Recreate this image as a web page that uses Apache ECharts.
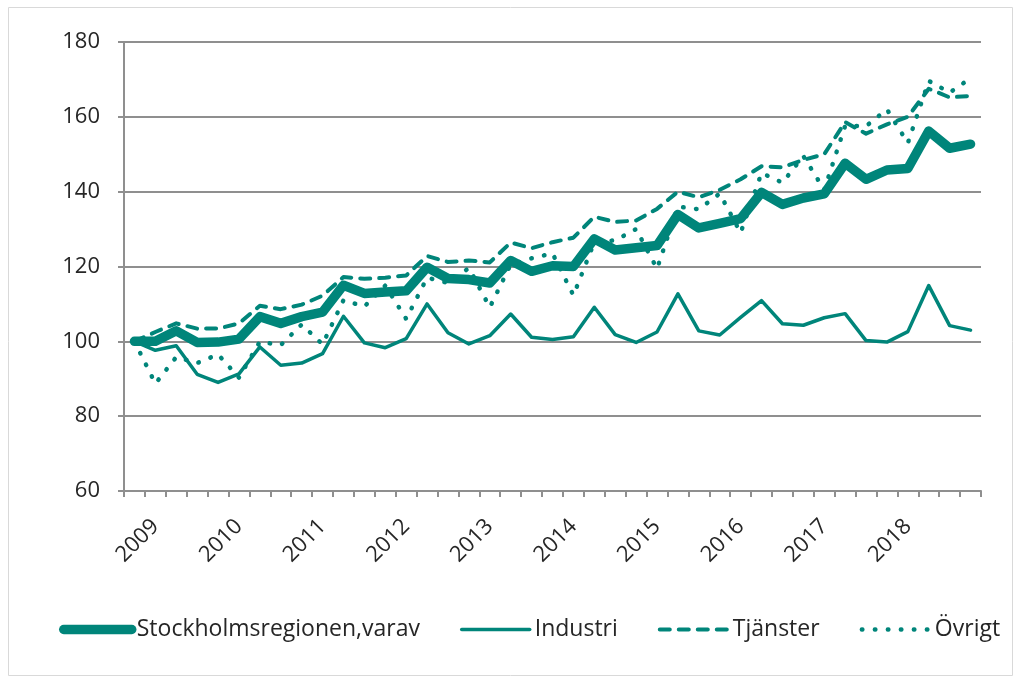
<!DOCTYPE html>
<html>
<head>
<meta charset="utf-8">
<title>Stockholmsregionen</title>
<script src="https://cdn.jsdelivr.net/npm/echarts@6/dist/echarts.min.js"></script>
<style>
  html, body {
    margin: 0;
    padding: 0;
    background: #fff;
  }
  #chart {
    width: 1021px;
    height: 683px;
  }
</style>
</head>
<body>
<div id="chart"></div>
<script>
// Quarters, 2008 K4 = 100
const quarters = [
  '2008K4',
  '2009K1', '2009K2', '2009K3', '2009K4',
  '2010K1', '2010K2', '2010K3', '2010K4',
  '2011K1', '2011K2', '2011K3', '2011K4',
  '2012K1', '2012K2', '2012K3', '2012K4',
  '2013K1', '2013K2', '2013K3', '2013K4',
  '2014K1', '2014K2', '2014K3', '2014K4',
  '2015K1', '2015K2', '2015K3', '2015K4',
  '2016K1', '2016K2', '2016K3', '2016K4',
  '2017K1', '2017K2', '2017K3', '2017K4',
  '2018K1', '2018K2', '2018K3', '2018K4',
]

const seriesNames = ['Stockholmsregionen,varav', 'Industri', 'Tjänster', 'Övrigt']

const stockholm = [
  100, 100, 102.8, 99.7, 99.8, 100.6, 106.6, 104.8, 106.6, 107.8,
  115, 112.8, 113.2, 113.5, 119.8, 116.8, 116.5, 115.6, 121.6, 118.7,
  120.2, 120, 127.4, 124.4, 125, 125.6, 133.9, 130.3, 131.5, 132.8,
  139.8, 136.6, 138.3, 139.4, 147.6, 143.3, 145.8, 146.2, 156.2, 151.6,
  152.7,
]
const industri = [
  100, 97.6, 98.8, 91.2, 89, 91.3, 98.5, 93.6, 94.2, 96.7,
  106.7, 99.6, 98.3, 100.7, 110, 102.3, 99.3, 101.5, 107.3, 101.1,
  100.5, 101.2, 109.1, 101.8, 99.7, 102.5, 112.7, 102.8, 101.7, 106.4,
  110.9, 104.7, 104.3, 106.3, 107.4, 100.2, 99.8, 102.6, 114.9, 104.2,
  103,
]
const tjanster = [
  100, 102.5, 104.8, 103.4, 103.4, 104.8, 109.5, 108.6, 109.8, 112.2,
  117.2, 116.7, 117, 117.6, 122.8, 121.2, 121.6, 121.1, 126.4, 124.9,
  126.5, 127.7, 133.3, 131.9, 132.3, 135.4, 140, 138.5, 140.5, 143.3,
  146.8, 146.5, 148.5, 150, 158.6, 155.5, 158, 160, 167.5, 165.2,
  165.6,
]
const ovrigt = [
  100, 88.7, 95.8, 94.2, 96.5, 90.3, 99.9, 99, 104.5, 99.2,
  111, 109.3, 114.9, 106, 117, 115.6, 119.6, 109.1, 120.5, 122.2,
  123.5, 112.3, 126.5, 127, 130, 119.4, 136, 135.3, 139.5, 129,
  145, 142.4, 149.5, 140.5, 157.6, 157.5, 162, 153, 169.6, 166.5,
  170.3,
]

const teal = '#00857a'
const gridGray = '#8f8f8f'
const textColor = '#262626'
const fontFamily = '"Open Sans", "DejaVu Sans", sans-serif'

const chart = echarts.init(document.getElementById('chart'), null, { renderer: 'canvas' })

chart.setOption({
  animation: false,
  textStyle: { fontFamily: fontFamily },
  graphic: [{
    // outer frame
    type: 'rect',
    shape: { x: 8.5, y: 7.5, width: 1004, height: 668 },
    style: { fill: 'none', stroke: '#d9d9d9', lineWidth: 1 },
    silent: true,
  }],
  grid: {
    left: 124,
    right: 40,
    top: 42,
    bottom: 192,
    containLabel: false,
  },
  legend: {
    left: 59,
    top: 618,
    padding: 0,
    itemWidth: 68,
    itemHeight: 12,
    itemGap: 40,
    textStyle: { fontSize: 23, color: textColor, fontFamily: fontFamily },
    lineStyle: { width: 'inherit' },
    // hide the little circle drawn on line legend icons
    itemStyle: { opacity: 0 },
    data: seriesNames,
  },
  xAxis: {
    type: 'category',
    data: quarters,
    boundaryGap: true,
    axisLine: { lineStyle: { color: gridGray, width: 2 } },
    axisTick: {
      show: true,
      interval: 0,
      length: 6,
      lineStyle: { color: gridGray, width: 2 },
    },
    axisLabel: {
      interval: (i, v) => v.slice(4) === 'K1',
      formatter: (v) => v.slice(0, 4),
      rotate: 45,
      margin: 32,
      fontSize: 22,
      color: textColor,
    },
    splitLine: { show: false },
  },
  yAxis: {
    type: 'value',
    min: 60,
    max: 180,
    interval: 20,
    axisLine: { show: true, lineStyle: { color: gridGray, width: 2 } },
    axisTick: { show: true, length: 6, lineStyle: { color: gridGray, width: 2 } },
    axisLabel: { margin: 24, fontSize: 22, color: textColor },
    splitLine: { lineStyle: { color: gridGray, width: 2 } },
  },
  series: [
    {
      name: seriesNames[0],
      type: 'line',
      data: stockholm,
      symbol: 'none',
      lineStyle: { color: teal, width: 9.5, cap: 'round', join: 'round' },
      itemStyle: { color: teal },
    },
    {
      name: seriesNames[1],
      type: 'line',
      data: industri,
      symbol: 'none',
      lineStyle: { color: teal, width: 3.5, cap: 'round', join: 'round' },
      itemStyle: { color: teal },
    },
    {
      name: seriesNames[2],
      type: 'line',
      data: tjanster,
      symbol: 'none',
      lineStyle: { color: teal, width: 4, type: [10, 9], cap: 'round', join: 'round' },
      itemStyle: { color: teal },
    },
    {
      name: seriesNames[3],
      type: 'line',
      data: ovrigt,
      symbol: 'none',
      lineStyle: { color: teal, width: 4.5, type: [0.5, 12.5], cap: 'round', join: 'round' },
      itemStyle: { color: teal },
    },
  ],
})
</script>
</body>
</html>
